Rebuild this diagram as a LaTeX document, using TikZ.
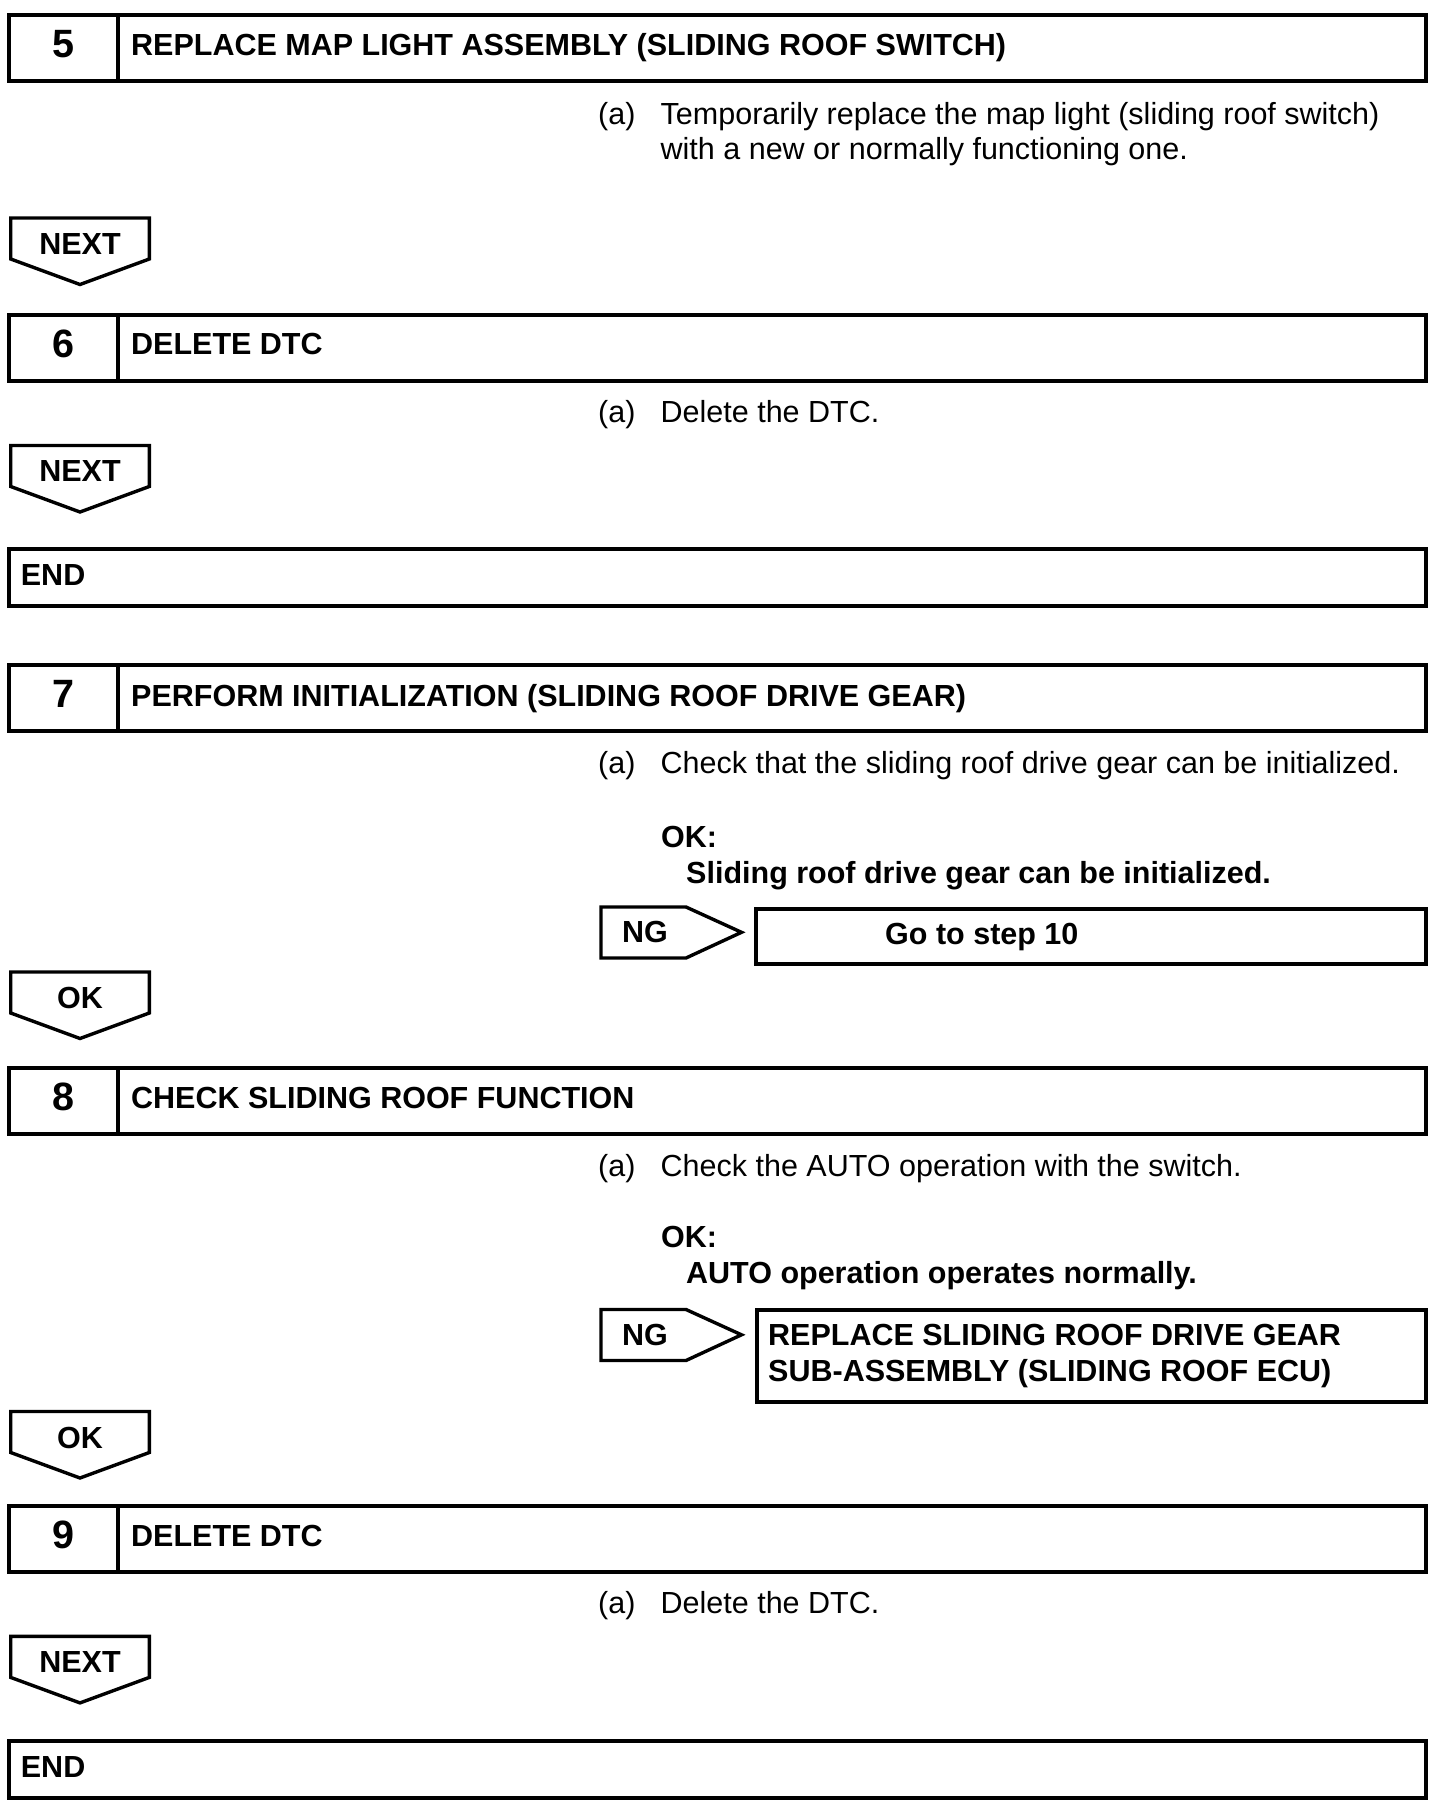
\documentclass[tikz,border=0pt]{standalone}
\usepackage{fontspec}
\setmainfont{Liberation Sans}
\usetikzlibrary{positioning}

\tikzset{
  stepbox/.style={draw, line width=4pt, anchor=north west, minimum width=1417pt, minimum height=66pt, inner sep=0pt, outer sep=0pt},
  endbox/.style={draw, line width=4pt, anchor=north west, minimum width=1417pt, minimum height=57pt, inner sep=0pt, outer sep=0pt},
  numcell/.style={draw, line width=4pt, anchor=north west, minimum width=109pt, minimum height=66pt, inner sep=0pt, outer sep=0pt, text depth=8pt, font=\fontsize{39.5}{39.5}\selectfont\bfseries},
  resultbox/.style={draw, line width=4pt, anchor=north west, inner sep=0pt, outer sep=0pt},
  headtext/.style={anchor=base west, inner sep=0pt, font=\fontsize{30.5}{36}\selectfont\bfseries},
  bodytext/.style={anchor=base west, inner sep=0pt, align=left, font=\fontsize{30.5}{35.7}\selectfont},
  boldtext/.style={anchor=base west, inner sep=0pt, align=left, font=\fontsize{30.5}{36}\selectfont\bfseries},
  tagtext/.style={inner sep=0pt, font=\fontsize{30.5}{36}\selectfont\bfseries},
  tagline/.style={line width=3.4pt, line join=miter},
  downtag/.pic={\draw[tagline] (-69.3,-26) -- (69.3,-26) -- (69.3,15) -- (0,40.5) -- (-69.3,15) -- cycle;},
  ngtag/.pic={\draw[tagline] (-44,-25) -- (41,-25) -- (96.5,0.3) -- (41,26) -- (-44,26) -- cycle;}
}

\begin{document}
\begin{tikzpicture}[x=1pt, y=-1pt]
  \useasboundingbox (0,0) rectangle (1456,1810);

  \node[stepbox] (s5) at (8.7,14.5) {};
  \node[numcell] (n5) at (8.7,14.5) {5};
  \node[headtext] (t5) at (131,55) {REPLACE MAP LIGHT ASSEMBLY (SLIDING ROOF SWITCH)};
  \node[bodytext] (a5) at (598,124) {(a)};
  \node[bodytext, anchor=west] (d5) at (660.5,134) {Temporarily replace the map light (sliding roof switch)\\with a new or normally functioning one.};
  \pic at (80,244) {downtag};
  \node[tagtext] (next5) at (80,244) {NEXT};

  \node[stepbox] (s6) at (8.7,314.5) {};
  \node[numcell] (n6) at (8.7,314.5) {6};
  \node[headtext] (t6) at (131,354) {DELETE DTC};
  \node[bodytext] (a6) at (598,422.3) {(a)};
  \node[bodytext] (d6) at (660.5,422.3) {Delete the DTC.};
  \pic at (80,471.5) {downtag};
  \node[tagtext] (next6) at (80,471.5) {NEXT};

  \node[endbox] (end6) at (8.7,548.5) {};
  \node[headtext] (end6t) at (20.7,585) {END};

  \node[stepbox] (s7) at (8.7,665.3) {};
  \node[numcell] (n7) at (8.7,665.3) {7};
  \node[headtext] (t7) at (131,706) {PERFORM INITIALIZATION (SLIDING ROOF DRIVE GEAR)};
  \node[bodytext] (a7) at (598,773.7) {(a)};
  \node[bodytext] (d7) at (660.5,773.7) {Check that the sliding roof drive gear can be initialized.};
  \node[boldtext] (ok7) at (661,847) {OK:};
  \node[boldtext] (c7) at (686,883.3) {Sliding roof drive gear can be initialized.};
  \pic at (645,932) {ngtag};
  \node[tagtext] (ng7) at (645,932) {NG};
  \node[resultbox, minimum width=669.7pt, minimum height=55.3pt] (go7) at (756,908.7) {};
  \node[boldtext] (go7t) at (885,944) {Go to step 10};
  \pic at (80,998) {downtag};
  \node[tagtext] (ok7tag) at (80,998) {OK};

  \node[stepbox] (s8) at (8.7,1068) {};
  \node[numcell] (n8) at (8.7,1068) {8};
  \node[headtext] (t8) at (131,1108.5) {CHECK SLIDING ROOF FUNCTION};
  \node[bodytext] (a8) at (598,1176.2) {(a)};
  \node[bodytext] (d8) at (660.5,1176.2) {Check the AUTO operation with the switch.};
  \node[boldtext] (ok8) at (661,1247.7) {OK:};
  \node[boldtext] (c8) at (686,1283.7) {AUTO operation operates normally.};
  \pic at (645,1334.5) {ngtag};
  \node[tagtext] (ng8) at (645,1334.5) {NG};
  \node[resultbox, minimum width=668.7pt, minimum height=92.3pt] (rep8) at (757,1310) {};
  \node[boldtext, anchor=west, right=11pt of rep8.west] (rep8t) {REPLACE SLIDING ROOF DRIVE GEAR\\SUB-ASSEMBLY (SLIDING ROOF ECU)};
  \pic at (80,1437.5) {downtag};
  \node[tagtext] (ok8tag) at (80,1437.5) {OK};

  \node[stepbox] (s9) at (8.7,1506) {};
  \node[numcell] (n9) at (8.7,1506) {9};
  \node[headtext] (t9) at (131,1546) {DELETE DTC};
  \node[bodytext] (a9) at (598,1613.1) {(a)};
  \node[bodytext] (d9) at (660.5,1613.1) {Delete the DTC.};
  \pic at (80,1662.4) {downtag};
  \node[tagtext] (next9) at (80,1662.4) {NEXT};

  \node[endbox] (end9) at (8.7,1740.5) {};
  \node[headtext] (end9t) at (20.7,1777) {END};
\end{tikzpicture}
\end{document}
